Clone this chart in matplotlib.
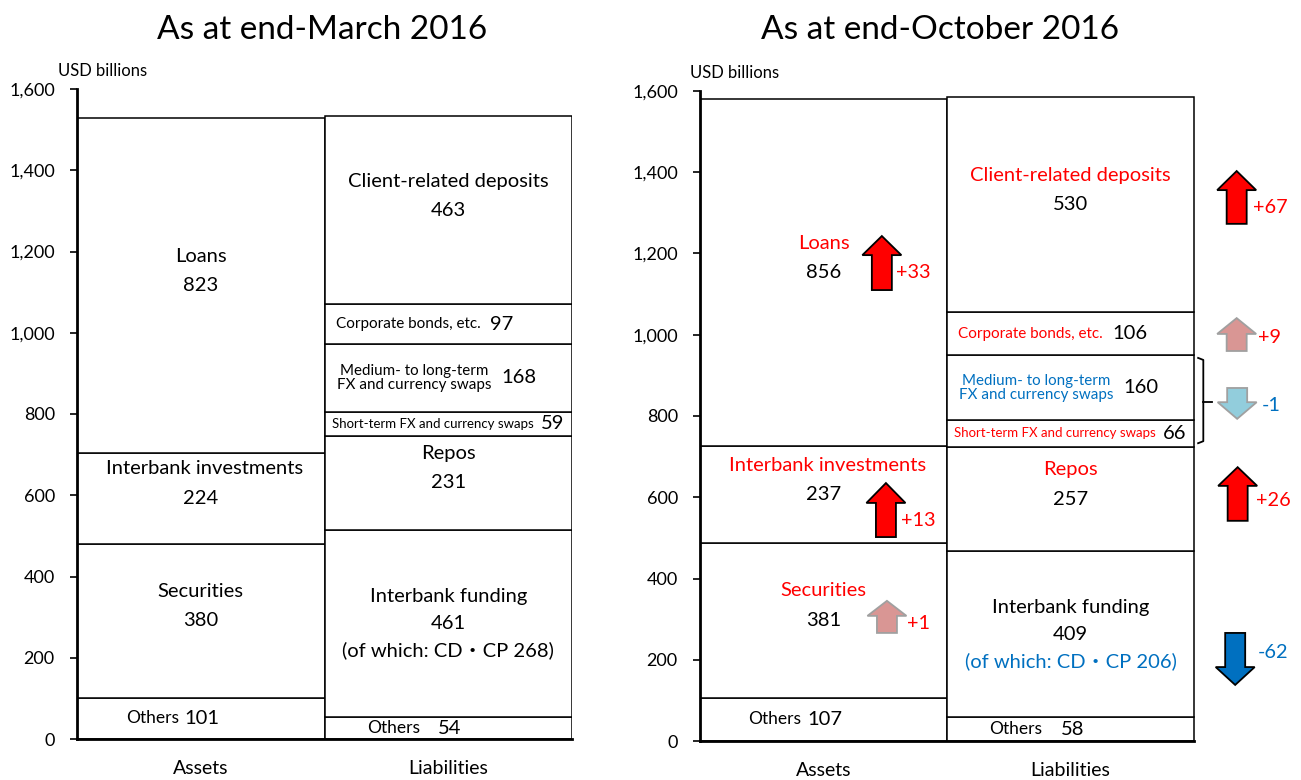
import numpy as np
import matplotlib
matplotlib.use("Agg")
import matplotlib.pyplot as plt
from matplotlib.patches import Polygon
from matplotlib.ticker import FuncFormatter

plt.rcParams['font.family'] = ['Lato', 'Noto Sans CJK JP']

RED = '#ff0000'
BLUE = '#0070c0'

# USD billions, stacked from bottom to top
asset_names = ["Others", "Securities", "Interbank investments", "Loans"]
assets_mar = [101, 380, 224, 823]
assets_oct = [107, 381, 237, 856]

liab_names = ["Others", "Interbank funding", "Repos", "Short-term FX and currency swaps",
              "Medium- to long-term\nFX and currency swaps", "Corporate bonds, etc.",
              "Client-related deposits"]
liabs_mar = [54, 461, 231, 59, 168, 97, 463]
liabs_oct = [58, 409, 257, 66, 160, 106, 530]

cdcp_mar = 268
cdcp_oct = 206

# changes end-March -> end-October (the two FX swap items combined)
changes = ["+33", "+13", "+1", "+67", "+9", "-1", "+26", "-62"]

PX = 247.0  # pixels per bar unit
BIG = 14.5  # main label size

# label layout per segment: (kind, name dx px, name ha, name size, value dx px)
asset_layout = [("inline", -22, "right", 12.5, -16),
                ("stack", 0, "center", BIG, 0),
                ("stack", 4, "center", BIG, 0),
                ("stack", 0, "center", BIG, 0)]
liab_layout = [("inline", -28, "right", 12.5, -10),
               ("funding", 0, "center", BIG, 0),
               ("stack", 0, "center", BIG, 0),
               ("inline", 85, "right", 9.5, 92),
               ("inline", -34, "center", 10.9, 53),
               ("inline", 32, "right", 11, 42),
               ("stack", 0, "center", BIG, 0)]


def draw_stack(ax, x0, vals, names, layout, colors, cdcp=None, cdcp_color='black'):
    bottoms = np.concatenate([[0], np.cumsum(vals)[:-1]])
    ax.bar(x0, vals, bottom=bottoms, width=1.0, color='white',
           edgecolor='black', linewidth=1.1, zorder=2)
    for v, b, nm, lay, c in zip(vals, bottoms, names, layout, colors):
        kind, ndx, ha, fs, vdx = lay
        mid = b + v / 2
        if kind == "stack":
            ax.text(x0 + ndx / PX, mid + 72, nm, ha='center', va='center', fontsize=fs,
                    color=c, zorder=3)
            ax.text(x0, mid, str(v), ha='center', va='center', fontsize=BIG, zorder=3)
        elif kind == "funding":
            ax.text(x0, mid + 66, nm, ha='center', va='center', fontsize=fs, color=c, zorder=3)
            ax.text(x0, mid, str(v), ha='center', va='center', fontsize=BIG, zorder=3)
            ax.text(x0, mid - 67, f"(of which: CD\u30fbCP {cdcp})", ha='center', va='center',
                    fontsize=BIG, color=cdcp_color, zorder=3)
        else:
            ax.text(x0 + ndx / PX, mid, nm, ha=ha, va='center', fontsize=fs, color=c,
                    linespacing=1.0, zorder=3)
            ax.text(x0 + vdx / PX, mid, str(v), ha='left', va='center', fontsize=BIG, zorder=3)
    return bottoms


def setup_axes(ax, xmax):
    ax.set_xlim(-0.5, xmax)
    ax.set_ylim(0, 1600)
    ax.set_yticks(np.arange(0, 1601, 200))
    ax.yaxis.set_major_formatter(FuncFormatter(lambda v, p: f"{v:,.0f}"))
    ax.tick_params(axis='y', direction='out', length=5, width=1.2, labelsize=13, pad=11)
    ax.set_xticks([0, 1])
    ax.set_xticklabels(["Assets", "Liabilities"])
    ax.tick_params(axis='x', length=0, labelsize=14, pad=15)
    for s in ['top', 'right', 'bottom']:
        ax.spines[s].set_visible(False)
    ax.spines['left'].set_linewidth(2)
    ax.plot([-0.5, 1.5], [0, 0], color='black', lw=2, zorder=4, clip_on=False)
    ax.text(-0.038 if xmax < 1.6 else -0.017, 1.028, "USD billions", transform=ax.transAxes,
            fontsize=12, ha='left', va='center')


def block_arrow(ax, x, y_tail, y_tip, head_len, face, edge):
    hw = 19.5 / PX
    sw = 10 / PX
    d = np.sign(y_tip - y_tail)
    yb = y_tip - d * head_len
    pts = [(x - sw, y_tail), (x - sw, yb), (x - hw, yb), (x, y_tip),
           (x + hw, yb), (x + sw, yb), (x + sw, y_tail)]
    ax.add_patch(Polygon(pts, closed=True, facecolor=face, edgecolor=edge,
                         linewidth=1.3, clip_on=False, zorder=5))


fig = plt.figure(figsize=(13.01, 7.8), dpi=100)
ax1 = fig.add_axes([77 / 1301, 41 / 780, 495 / 1301, 650 / 780])
ax2 = fig.add_axes([700 / 1301, 39 / 780, 593 / 1301, 650 / 780])

# end-March
setup_axes(ax1, 1.5)
draw_stack(ax1, 0, assets_mar, asset_names, asset_layout, ['black'] * 4)
draw_stack(ax1, 1, liabs_mar, liab_names, liab_layout, ['black'] * 7, cdcp_mar)

# end-October
setup_axes(ax2, 1.9)
draw_stack(ax2, 0, assets_oct, asset_names, asset_layout, ['black', RED, RED, RED])
lb = draw_stack(ax2, 1, liabs_oct, liab_names, liab_layout,
                ['black', 'black', RED, RED, BLUE, RED, RED], cdcp_oct, BLUE)

# bracket grouping the two FX swap items
fx_lo = lb[3]
fx_hi = lb[4] + liabs_oct[4]
bx0, bx1, bx2 = 1.516, 1.537, 1.573
ax2.plot([bx0, bx1, bx1, bx0], [fx_hi - 7, fx_hi - 12, fx_lo + 14, fx_lo + 9],
         color='black', lw=1.3, clip_on=False)
ax2.plot([bx1, bx2], [(fx_hi + fx_lo) / 2 - 3] * 2, color='black', lw=1.3, clip_on=False)

# arrows (layout only)
big_up = (RED, 'black')
small_up = ('#d99694', '#a0a0a0')
small_dn = ('#92cddc', '#a0a0a0')
big_dn = (BLUE, 'black')
arrow_x = [0.236, 0.2525, 0.2566, 1.672, 1.672, 1.674, 1.676, 1.666]
arrow_tail = [1110, 502, 266, 1273, 960, 869, 542, 266]
arrow_tip = [1243, 635, 345, 1403, 1041, 793, 674, 138]
arrow_head = [47, 49, 37, 47, 39, 41, 46, 44]
arrow_style = [big_up, big_up, small_up, big_up, small_up, small_dn, big_up, big_dn]
text_x = [0.295, 0.315, 0.336, 1.739, 1.760, 1.772, 1.751, 1.756]
text_y = [1154, 544, 290, 1314, 992, 827, 591, 219]

for i, lab in enumerate(changes):
    fc, ec = arrow_style[i]
    block_arrow(ax2, arrow_x[i], arrow_tail[i], arrow_tip[i], arrow_head[i], fc, ec)
    ax2.text(text_x[i], text_y[i], lab, ha='left', va='center', fontsize=14.3,
             color=RED if lab.startswith('+') else BLUE, clip_on=False)

fig.text(322 / 1301, 0.962, "As at end-March 2016", ha='center', va='center', fontsize=24)
fig.text(940 / 1301, 0.962, "As at end-October 2016", ha='center', va='center', fontsize=24)

fig.savefig("out.png", dpi=100)
